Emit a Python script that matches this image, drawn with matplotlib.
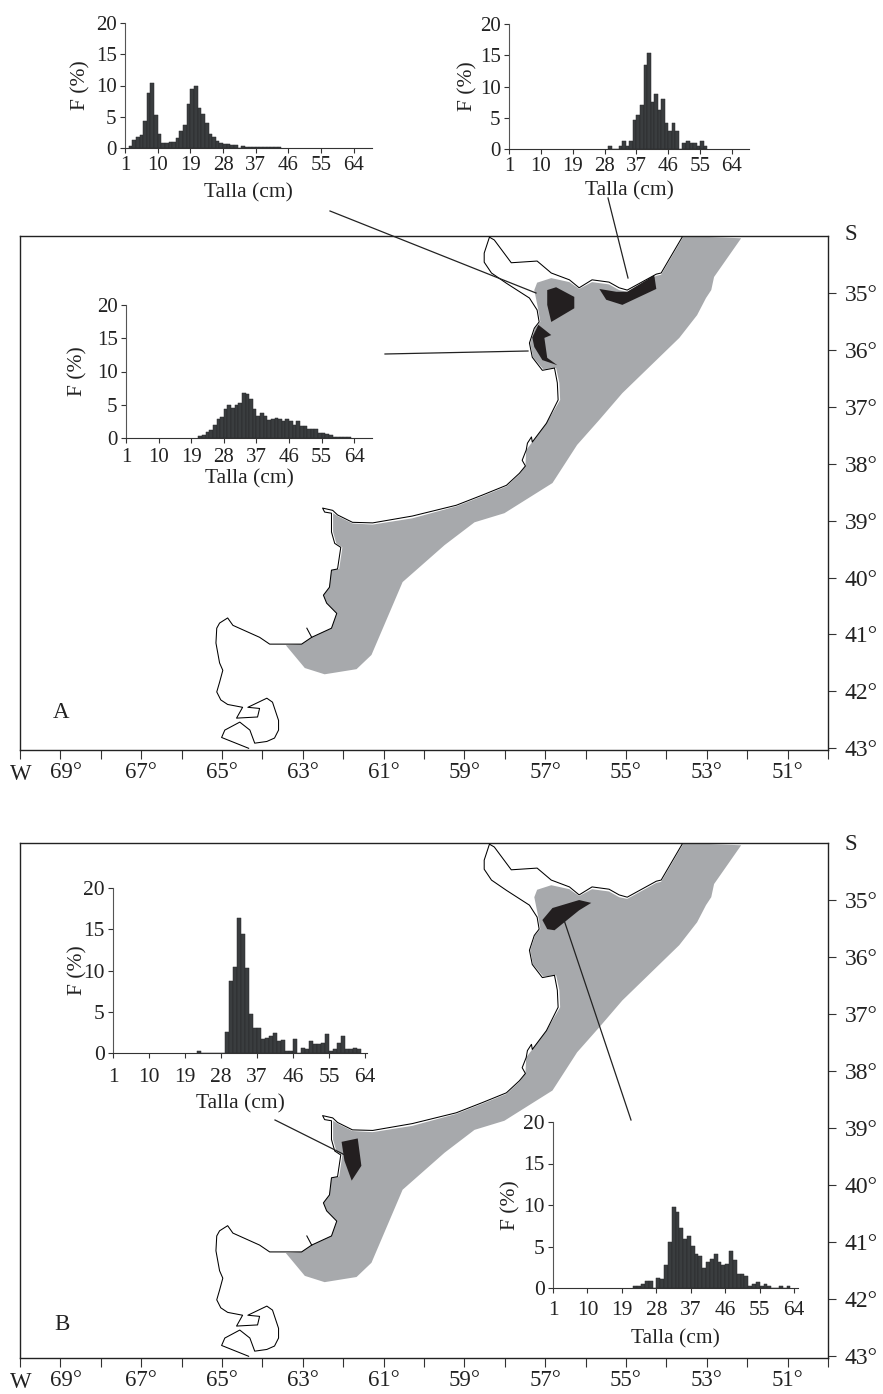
"""Length frequency histograms over the shelf map, panels A and B."""
import matplotlib
matplotlib.use("Agg")
import matplotlib.pyplot as plt
from matplotlib.transforms import ScaledTranslation

W, H = 883, 1394
GRAY = "#a7a9ac"
BLACK = "#231f20"
BAR = "#3a3d3f"

# coastline, NE to SW (lon W, lat S)
coast_lon = [53.61, 54.13, 54.25, 54.97, 55.17, 55.42, 55.84, 56.16, 56.40, 56.85, 57.20, 57.84, 58.26, 58.38,
             58.51, 58.51, 58.33, 57.96, 57.39, 57.20, 57.15, 57.27, 57.39, 57.32, 57.07, 56.77, 56.70, 56.68,
             56.97, 57.32, 57.34, 57.44, 57.47, 57.57, 57.49, 57.64, 57.96, 58.55, 59.20, 60.29, 61.27, 61.77,
             62.14, 62.26, 62.51, 62.46, 62.29, 62.29, 62.21, 62.06, 62.14, 62.29, 62.34, 62.49, 62.41, 62.16,
             62.29, 62.78, 63.03, 63.82, 64.07, 64.73, 64.86, 65.06, 65.13, 65.15, 65.06, 64.98, 65.06, 65.13,
             65.03, 64.86, 64.49, 64.64, 64.12, 64.07, 64.36, 63.89, 63.75, 63.60, 63.60, 63.70, 63.89, 64.19,
             64.31, 64.56, 64.93, 65.01, 64.34]
coast_lat = [34.02, 34.65, 34.67, 34.95, 34.91, 34.81, 34.77, 34.91, 34.77, 34.65, 34.44, 34.47, 34.07, 34.02,
             34.30, 34.46, 34.65, 34.83, 35.09, 35.30, 35.51, 35.62, 35.88, 36.13, 36.36, 36.32, 36.58, 36.88,
             37.29, 37.62, 37.53, 37.64, 37.76, 37.94, 38.04, 38.17, 38.38, 38.55, 38.73, 38.92, 39.04, 39.03,
             38.90, 38.82, 38.78, 38.85, 38.87, 39.20, 39.40, 39.47, 39.85, 39.87, 40.17, 40.31, 40.45, 40.63,
             40.89, 41.05, 41.17, 41.17, 41.05, 40.84, 40.71, 40.80, 40.89, 41.15, 41.50, 41.63, 41.84, 42.01,
             42.15, 42.23, 42.28, 42.47, 42.45, 42.30, 42.28, 42.12, 42.19, 42.51, 42.68, 42.82, 42.88, 42.91,
             42.68, 42.54, 42.68, 42.81, 43.00]

# river mouth stub
stub_lon = [62.90, 62.78]
stub_lat = [40.89, 41.05]

# shelf area
shelf_lon = [52.15, 52.82, 52.89, 53.02, 53.24, 53.68, 55.09, 55.66, 56.21, 56.82, 58.01, 58.75, 59.49, 60.53,
             61.30, 61.67, 62.46, 62.95, 63.42, 63.03, 62.78, 62.29, 62.16, 62.41, 62.49, 62.34, 62.29, 62.10,
             62.02, 62.17, 62.25, 62.25, 62.14, 61.77, 61.27, 60.29, 59.20, 58.55, 57.96, 57.64, 57.49, 57.47,
             56.97, 56.63, 56.65, 56.73, 57.05, 57.30, 57.37, 57.25, 57.12, 57.17, 57.27, 57.20, 56.85, 56.40,
             56.16, 55.84, 55.42, 55.17, 54.97, 54.25, 54.13, 53.57]
shelf_lat = [34.04, 34.72, 34.95, 35.09, 35.39, 35.79, 36.76, 37.23, 37.67, 38.34, 38.87, 39.03, 39.43, 40.08,
             41.36, 41.61, 41.70, 41.59, 41.19, 41.17, 41.05, 40.89, 40.63, 40.45, 40.31, 40.17, 39.87, 39.85,
             39.47, 39.40, 39.20, 38.87, 38.92, 39.05, 39.07, 38.96, 38.75, 38.57, 38.40, 38.19, 38.04, 37.76,
             37.29, 36.88, 36.58, 36.32, 36.34, 36.13, 35.88, 35.62, 35.51, 35.30, 34.95, 34.82, 34.74, 34.81,
             34.93, 34.81, 34.85, 34.95, 34.98, 34.70, 34.68, 34.00]

# sampling areas, panel A
a1_lon = [56.95, 56.73, 56.28, 56.28, 56.85, 56.95]
a1_lat = [34.95, 34.90, 35.07, 35.27, 35.51, 35.21]
a2_lon = [55.66, 55.24, 54.97, 54.30, 54.25, 55.09, 55.49]
a2_lat = [34.93, 34.98, 34.98, 34.69, 34.93, 35.21, 35.12]
a3_lon = [57.17, 56.85, 57.02, 56.95, 56.70, 57.07, 57.27, 57.32]
a3_lat = [35.56, 35.74, 35.79, 36.14, 36.27, 36.18, 35.95, 35.78]

# sampling areas, panel B
b1_lon = [57.07, 56.82, 56.16, 55.86, 56.16, 56.77, 56.95]
b1_lat = [35.35, 35.14, 35.00, 35.05, 35.18, 35.53, 35.51]
b2_lon = [62.04, 61.64, 61.55, 61.79, 61.97]
b2_lat = [39.24, 39.18, 39.66, 39.92, 39.57]

# histograms: first size class and F (%) per 1 cm class
h1_start = 2
h1_vals = [0.4, 1.3, 1.8, 2.1, 4.4, 8.8, 10.4, 5.3, 2.2, 0.8, 0.8, 0.9, 0.9, 1.6, 2.7, 3.7, 7.1, 9.5, 10.0, 6.4,
           5.5, 4.0, 2.2, 1.8, 1.2, 0.8, 0.7, 0.6, 0.5, 0.5, 0.0, 0.3, 0.2, 0.15, 0.15, 0.15, 0.15, 0.15, 0.15,
           0.15, 0.15, 0.15]
h2_start = 29
h2_vals = [0.5, 0.0, 0.0, 0.5, 1.3, 0.5, 1.3, 4.6, 5.4, 7.0, 13.5, 15.4, 7.5, 8.8, 6.2, 8.0, 4.2, 2.9, 4.2, 2.9,
           0.0, 0.9, 1.3, 0.9, 0.9, 0.5, 1.3, 0.5]
h3_start = 21
h3_vals = [0.3, 0.5, 0.9, 1.2, 1.9, 2.8, 3.2, 4.3, 5.0, 4.5, 4.9, 5.3, 6.7, 6.6, 5.9, 4.3, 3.3, 3.7, 3.3, 2.7,
           2.9, 3.0, 2.9, 2.5, 2.9, 2.6, 2.0, 2.5, 1.8, 1.8, 1.3, 1.3, 1.3, 0.8, 0.8, 0.6, 0.5, 0.2, 0.2, 0.2,
           0.2, 0.2]
h4_start = 22
h4_vals = [0.3, 0, 0, 0, 0, 0, 0, 2.6, 8.7, 10.4, 16.4, 14.4, 10.3, 4.7, 3.0, 3.0, 1.7, 1.8, 2.1, 2.4, 1.4, 1.6,
           0.3, 0.3, 1.7, 0.0, 0.6, 0.5, 1.4, 1.1, 1.1, 1.2, 2.3, 0.3, 0.5, 1.2, 2.1, 0.5, 0.5, 0.6, 0.5]
h5_start = 22
h5_vals = [0.2, 0.2, 0.5, 0.8, 0.8, 0.0, 1.2, 1.1, 2.8, 5.6, 9.8, 9.2, 7.2, 5.9, 6.3, 5.1, 4.1, 3.8, 2.4, 3.1,
           3.5, 4.1, 3.1, 2.8, 2.9, 4.4, 3.4, 1.7, 1.7, 1.5, 0.2, 0.5, 0.7, 0.2, 0.5, 0.2, 0.0, 0.0, 0.2, 0.0, 0.2]

x_tick_vals = [1, 10, 19, 28, 37, 46, 55, 64]
y_tick_vals = [0, 5, 10, 15, 20]
lon_ticks = list(range(70, 49, -1))
lon_labels = ["" if v % 2 == 0 else f"{v}°" for v in lon_ticks]
lat_ticks = list(range(35, 44))
lat_labels = [f"{v}°" for v in lat_ticks]


def px_axes(fig, left, top, right, bottom, **kw):
    return fig.add_axes([left / W, 1 - bottom / H, (right - left) / W, (bottom - top) / H], **kw)


def draw_map(fig, top, bottom, patches):
    ax = px_axes(fig, 20, top, 828, bottom)
    ax.fill(shelf_lon, shelf_lat, color=GRAY, lw=0, zorder=1)
    for lon, lat in patches:
        ax.fill(lon, lat, color=BLACK, lw=0, zorder=2)
    ax.plot(coast_lon, coast_lat, color="black", lw=0.75, zorder=3)
    ax.plot(stub_lon, stub_lat, color="black", lw=0.75, zorder=3)
    ax.set_xlim(70, 50.03)
    ax.set_ylim(43.03, 34)
    ax.set_xticks(lon_ticks)
    ax.set_xticklabels(lon_labels, fontsize=16.5)
    ax.set_yticks(lat_ticks)
    ax.set_yticklabels(lat_labels, fontsize=17)
    ax.yaxis.tick_right()
    ax.tick_params(axis="x", length=6.5, width=0.8, pad=2, color="#333333", labelcolor="#222222")
    ax.tick_params(axis="y", length=6, width=0.8, pad=6, color="#333333", labelcolor="#222222")
    # the 69 label sits a little right of its tick
    lbl = ax.get_xticklabels()[1]
    lbl.set_transform(lbl.get_transform() + ScaledTranslation(6 / 100, 0, fig.dpi_scale_trans))
    for s in ax.spines.values():
        s.set_linewidth(1.0)
        s.set_color("#222222")
    return ax


def draw_hist(fig, box, start, vals, xmax, tick_pad, x_pad, y_pad, size=15):
    ax = px_axes(fig, *box)
    ax.patch.set_visible(False)
    sizes = [start + i for i in range(len(vals))]
    ax.bar(sizes, vals, width=1.0, align="edge", color=BAR, edgecolor="#26282a", lw=0.35)
    ax.set_xlim(1, xmax)
    ax.set_ylim(0, 20)
    ax.set_xticks(x_tick_vals)
    ax.set_yticks(y_tick_vals)
    ax.tick_params(labelsize=size, length=3.5, width=0.8, color="#333333", labelcolor="#222222")
    ax.tick_params(axis="x", pad=tick_pad)
    ax.tick_params(axis="y", pad=2.5)
    ax.set_xlabel("Talla (cm)", fontsize=15.5, labelpad=x_pad, color="#222222")
    ax.set_ylabel("F (%)", fontsize=15.5, labelpad=y_pad, color="#222222")
    ax.spines["top"].set_visible(False)
    ax.spines["right"].set_visible(False)
    ax.spines["left"].set_color("#555555")
    ax.spines["bottom"].set_color("#333333")
    return ax


def main():
    plt.rcParams["font.family"] = ["Liberation Serif", "DejaVu Serif"]
    fig = plt.figure(figsize=(W / 100, H / 100), dpi=100, facecolor="white")

    draw_map(fig, 236, 750, [(a1_lon, a1_lat), (a2_lon, a2_lat), (a3_lon, a3_lat)])
    draw_map(fig, 843, 1358, [(b1_lon, b1_lat), (b2_lon, b2_lat)])

    # leader lines and loose letters, in picture pixels
    over = fig.add_axes([0, 0, 1, 1])
    over.set_xlim(0, W)
    over.set_ylim(H, 0)
    over.axis("off")
    for x0, y0, x1, y1 in [(330, 211, 536, 293), (608, 198, 628, 278), (385, 354, 528, 351),
                           (564, 920, 631, 1120), (275, 1120, 345, 1155)]:
        over.plot([x0, x1], [y0, y1], color="#222222", lw=0.9)
    for x, y, s in [(61, 713, "A"), (62, 1325, "B"), (851, 235, "S"), (851, 844, "S"),
                    (21, 774, "W"), (21, 1382, "W")]:
        over.text(x, y, s, fontsize=16.5, ha="center", va="center", color="#222222")

    draw_hist(fig, (125, 23, 372, 148), h1_start, h1_vals, 69, 2, 6.5, 4)
    draw_hist(fig, (509, 24, 749, 149), h2_start, h2_vals, 68.8, 2, 4, 2)
    draw_hist(fig, (126, 305, 372, 438), h3_start, h3_vals, 68.9, 4, 1.5, 6.5)
    draw_hist(fig, (113, 888, 367, 1053), h4_start, h4_vals, 64.5, 7.5, 5, -3, 15.5)
    draw_hist(fig, (553, 1122, 798, 1288), h5_start, h5_vals, 65, 6, 6.5, 2, 15.5)

    fig.savefig("out.png", dpi=100)


if __name__ == "__main__":
    main()
